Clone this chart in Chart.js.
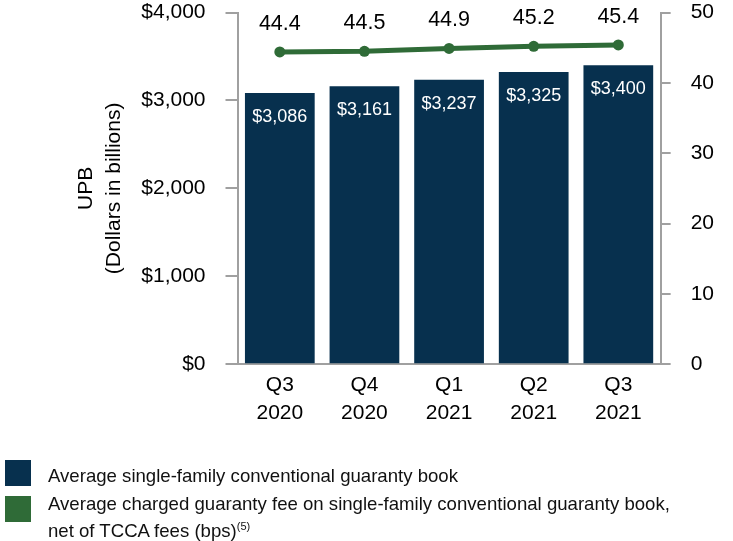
<!DOCTYPE html>
<html>
<head>
<meta charset="utf-8">
<script src="https://cdn.jsdelivr.net/npm/chart.js@4.4.0/dist/chart.umd.min.js"></script>
<style>
  body { margin: 0; background: #fff; }
  #wrap { position: relative; width: 733px; height: 541px; overflow: hidden; }
  #chart { position: absolute; left: 0; top: -20px; }
  #legend {
    position: absolute; left: 5px; top: 462px; width: 728px;
    font-family: 'Liberation Sans', Arial, sans-serif; font-size: 18.6px; color: #111;
    line-height: 27px;
  }
  .item { padding-left: 43px; white-space: nowrap; }
  .item + .item { margin-top: 1px; }
  .swatch { position: absolute; left: 0; width: 26px; height: 26px; }
  sup { font-size: 11px; line-height: 0; }
</style>
</head>
<body>
<div id="wrap">
  <canvas id="chart" width="733" height="561"></canvas>
  <div id="legend">
    <span class="swatch" style="top:-2px;background:#07304e"></span>
    <span class="swatch" style="top:34px;background:#2f6b37"></span>
    <div class="item">Average single-family conventional guaranty book</div>
    <div class="item">Average charged guaranty fee on single-family conventional guaranty book,<br>net of TCCA fees (bps)<sup>(5)</sup></div>
  </div>
</div>
<script>
const quarters = [['Q3', '2020'], ['Q4', '2020'], ['Q1', '2021'], ['Q2', '2021'], ['Q3', '2021']];
const bookUpb = [3086, 3161, 3237, 3325, 3400];
const guarantyFee = [44.4, 44.5, 44.9, 45.2, 45.4];

const FONT = "'Liberation Sans', Arial, sans-serif";
const NAVY = '#07304e';
const GREEN = '#2f6b37';
const AXIS = '#a0a0a0';

const valueLabels = {
  id: 'valueLabels',
  afterDatasetsDraw(chart) {
    const ctx = chart.ctx;
    ctx.save();
    ctx.textAlign = 'center';
    ctx.textBaseline = 'middle';

    const lineMeta = chart.getDatasetMeta(0);
    ctx.font = `21.5px ${FONT}`;
    ctx.fillStyle = '#000';
    lineMeta.data.forEach((pt, i) => {
      ctx.fillText(guarantyFee[i].toFixed(1), pt.x, pt.y - 28);
    });

    const barMeta = chart.getDatasetMeta(1);
    ctx.font = `18px ${FONT}`;
    ctx.fillStyle = '#fff';
    barMeta.data.forEach((bar, i) => {
      ctx.fillText('$' + bookUpb[i].toLocaleString('en-US'), bar.x, bar.y + 24);
    });
    ctx.restore();
  },
};

new Chart(document.getElementById('chart'), {
  type: 'bar',
  data: {
    labels: quarters,
    datasets: [
      {
        type: 'line',
        label: 'Average charged guaranty fee',
        data: guarantyFee,
        yAxisID: 'y1',
        borderColor: GREEN,
        backgroundColor: GREEN,
        borderWidth: 5,
        pointRadius: 5.5,
        pointBackgroundColor: GREEN,
        pointBorderWidth: 0,
        order: 0,
      },
      {
        label: 'Average single-family conventional guaranty book',
        data: bookUpb,
        yAxisID: 'y',
        backgroundColor: NAVY,
        barPercentage: 0.824,
        categoryPercentage: 1,
        order: 1,
      },
    ],
  },
  options: {
    responsive: false,
    animation: false,
    layout: { padding: { left: 72, right: -1, top: 0, bottom: 107 } },
    plugins: { legend: { display: false }, tooltip: { enabled: false } },
    scales: {
      x: {
        grid: { drawOnChartArea: false, drawTicks: false },
        border: { color: AXIS, width: 2 },
        ticks: { color: '#000', padding: 7, font: { family: FONT, size: 21, lineHeight: 1.33 } },
      },
      y: {
        position: 'left',
        min: 0,
        max: 4000,
        ticks: {
          stepSize: 1000,
          padding: 20,
          color: '#000',
          font: { family: FONT, size: 21 },
          callback: (v) => '$' + v.toLocaleString('en-US'),
        },
        grid: { drawOnChartArea: false, tickLength: 12, color: AXIS, lineWidth: 2 },
        border: { color: AXIS, width: 2 },
        title: {
          display: true,
          text: ['UPB', '(Dollars in billions)'],
          color: '#000',
          font: { family: FONT, size: 21, lineHeight: 1.33 },
          padding: { top: 0, bottom: 4 },
        },
      },
      y1: {
        position: 'right',
        min: 0,
        max: 50,
        ticks: { stepSize: 10, padding: 20, color: '#000', font: { family: FONT, size: 21 } },
        grid: { drawOnChartArea: false, tickLength: 10, color: AXIS, lineWidth: 2 },
        border: { color: AXIS, width: 2 },
      },
    },
  },
  plugins: [valueLabels],
});
</script>
</body>
</html>
